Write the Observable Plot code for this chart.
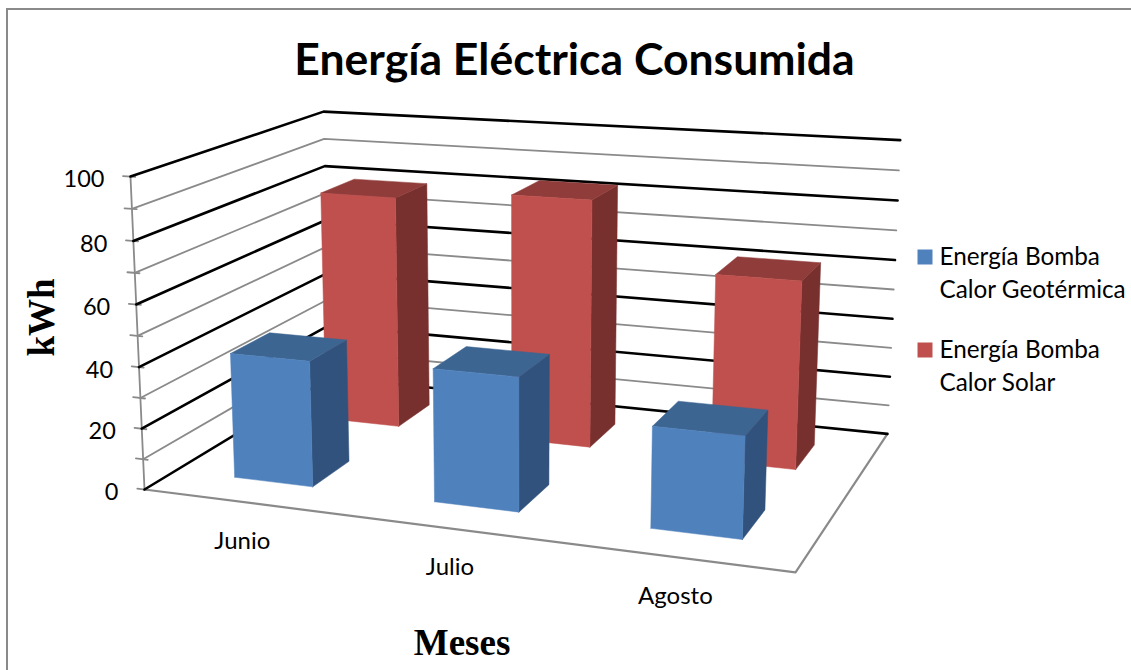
<!DOCTYPE html>
<html>
<head>
<meta charset="utf-8">
<script src="https://cdn.jsdelivr.net/npm/d3@7"></script>
<script src="https://cdn.jsdelivr.net/npm/@observablehq/plot@0.6"></script>
<style>
  html, body { margin: 0; background: #fff; }
  #chart { position: relative; width: 1131px; height: 670px; overflow: hidden; }
  #edge { position: absolute; left: 6px; top: 8px; right: -10px; bottom: -10px;
          border-left: 2px solid #8a8a8a; border-top: 2px solid #8a8a8a; }
  #chart svg { position: absolute; left: 0; top: 0; }
</style>
</head>
<body>
<div id="chart"><div id="edge"></div></div>
<script>
const meses = ["Junio", "Julio", "Agosto"];
const geotermica = [41, 42.5, 31.5];
const solar = [80, 83.5, 62];
const serieNames = ["Energía Bomba\nCalor Geotérmica", "Energía Bomba\nCalor Solar"];
const gridLevels = [0, 10, 20, 30, 40, 50, 60, 70, 80, 90, 100];
const tickLabels = [0, 20, 40, 60, 80, 100];

// Perspective camera of the 3D chart box: u runs along the months,
// w into the depth of the box, v up the kWh axis (all 0..1).
const camera = [
  [558.8, 246.2, -18.7, 144],
  [16.6, -41.9, -319.3, 489],
  [-0.116, 0.186, -0.036, 1]
];
const apply = (row, p) => row[0] * p.u + row[1] * p.w + row[2] * p.v + row[3];
const px = (p) => apply(camera[0], p) / apply(camera[2], p);
const py = (p) => apply(camera[1], p) / apply(camera[2], p);

// Columns fill 40% of their month band and 40% of their depth row.
const barRatio = 0.4;
const barShift = 0.002;

function columnFaces(values, row, serie) {
  const w0 = (row + 0.5 - barRatio / 2) / 2;
  const w1 = (row + 0.5 + barRatio / 2) / 2;
  return values.flatMap((value, i) => {
    const u0 = (i + 0.5 - barRatio / 2) / meses.length + barShift;
    const u1 = (i + 0.5 + barRatio / 2) / meses.length + barShift;
    const v = value / 100;
    const face = (tone, corners) => {
      const id = `${serie}-${i}-${tone}`;
      return [...corners, corners[0]].map((c) => ({u: c[0], w: c[1], v: c[2], id, key: `${serie}-${tone}`}));
    };
    return [
      ...face("side", [[u1, w0, 0], [u1, w1, 0], [u1, w1, v], [u1, w0, v]]),
      ...face("top", [[u0, w0, v], [u1, w0, v], [u1, w1, v], [u0, w1, v]]),
      ...face("front", [[u0, w0, 0], [u1, w0, 0], [u1, w0, v], [u0, w0, v]])
    ];
  });
}

const faces = [...columnFaces(solar, 1, "solar"), ...columnFaces(geotermica, 0, "geo")];

// Each gridline runs along the left wall and then along the back wall.
const grid = gridLevels.flatMap((level) => [
  {u: 0, w: 0, v: level / 100, level},
  {u: 0, w: 1, v: level / 100, level},
  {u: 1, w: 1, v: level / 100, level}
]);
const isMajor = (d) => d.level % 20 === 0;
const ticks = gridLevels.flatMap((level) => [
  {u: -0.0125, w: 0, v: level / 100, level},
  {u: 0.008, w: 0, v: level / 100, level}
]);
const axisLine = [{u: 0, w: 0, v: 0}, {u: 0, w: 0, v: 1}];
const floorEdge = [{u: 0, w: 0, v: 0}, {u: 1, w: 0, v: 0}, {u: 1, w: 1, v: 0}];

const gray = "#8a8a8a";
const sans = "Lato";
const serif = "Liberation Serif";

const chart = Plot.plot({
  width: 1131,
  height: 670,
  margin: 0,
  style: {background: "transparent"},
  x: {domain: [0, 1131], range: [0, 1131], axis: null},
  y: {domain: [0, 670], range: [0, 670], axis: null},
  color: {
    domain: ["geo-front", "geo-side", "geo-top", "solar-front", "solar-side", "solar-top"],
    range: ["#4f81bd", "#31527c", "#3d6591", "#c0504d", "#78302f", "#8f3c3a"]
  },
  marks: [
    Plot.line(grid.filter((d) => !isMajor(d)), {x: px, y: py, z: "level", stroke: gray, strokeWidth: 1.8}),
    Plot.line(ticks, {x: px, y: py, z: "level", stroke: gray, strokeWidth: 1.8}),
    Plot.line(axisLine, {x: px, y: py, stroke: gray, strokeWidth: 1.8}),
    Plot.line(floorEdge, {x: px, y: py, stroke: gray, strokeWidth: 2.2}),
    Plot.line(grid.filter(isMajor), {x: px, y: py, z: "level", stroke: "#000", strokeWidth: 2.6}),
    Plot.line(faces, {x: px, y: py, z: "id", fill: "key", stroke: "key", strokeWidth: 0.5}),
    Plot.text(tickLabels, {
      x: (d) => px({u: 0, w: 0, v: d / 100}),
      y: (d) => py({u: 0, w: 0, v: d / 100}),
      text: String, dx: -26, dy: 3, textAnchor: "end",
      fontFamily: sans, fontSize: 23.5, fill: "#000"
    }),
    Plot.text(meses, {
      x: (d, i) => px({u: (i + 0.5) / meses.length, w: 0, v: 0}),
      y: (d, i) => py({u: (i + 0.5) / meses.length, w: 0, v: 0}),
      text: String, dy: 39,
      fontFamily: sans, fontSize: 24, fill: "#000"
    }),
    Plot.text(["Energía Eléctrica Consumida"], {
      frameAnchor: "top", dx: 8.5, dy: 43, text: String, lineAnchor: "top",
      fontFamily: sans, fontWeight: 700, fontSize: 44.5, fill: "#000"
    }),
    Plot.text(["Meses"], {
      frameAnchor: "bottom", dx: -104, dy: -16, text: String, lineAnchor: "bottom",
      fontFamily: serif, fontWeight: 700, fontSize: 37, fill: "#000"
    }),
    Plot.text(["kWh"], {
      frameAnchor: "left", dx: 42, dy: -18, text: String, rotate: -90, textAnchor: "middle",
      fontFamily: serif, fontWeight: 700, fontSize: 37, fill: "#000"
    }),
    Plot.dot(["geo-front"], {
      frameAnchor: "top-left", dx: 924.5, dy: 256.5, symbol: "square", r: 8.46, fill: String
    }),
    Plot.dot(["solar-front"], {
      frameAnchor: "top-left", dx: 924.5, dy: 349.5, symbol: "square", r: 8.46, fill: String
    }),
    Plot.text([serieNames[0]], {
      frameAnchor: "top-left", dx: 939, dy: 241, text: String, textAnchor: "start", lineAnchor: "top",
      lineHeight: 1.36, fontFamily: sans, fontSize: 24.3, fill: "#000"
    }),
    Plot.text([serieNames[1]], {
      frameAnchor: "top-left", dx: 939, dy: 334, text: String, textAnchor: "start", lineAnchor: "top",
      lineHeight: 1.36, fontFamily: sans, fontSize: 24.3, fill: "#000"
    })
  ]
});
document.getElementById("chart").append(chart);
</script>
</body>
</html>
